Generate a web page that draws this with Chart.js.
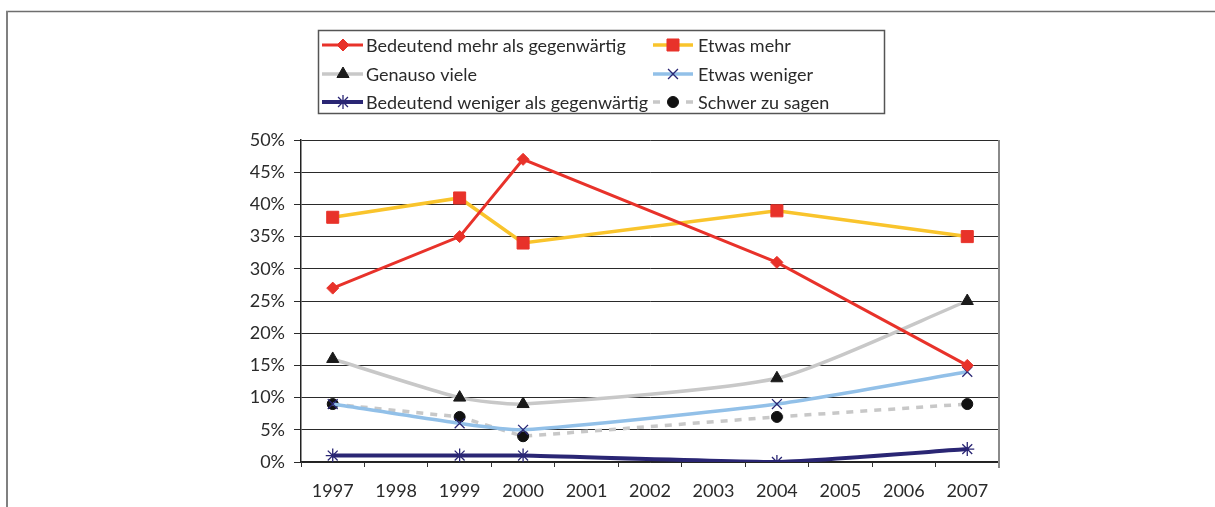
<!DOCTYPE html>
<html><head><meta charset="utf-8">
<script src="https://cdn.jsdelivr.net/npm/chart.js@4.4.1/dist/chart.umd.min.js"></script>
<style>html,body{margin:0;padding:0;background:#fff}#wrap{width:1215px;height:507px;position:relative}</style>
</head><body><div id="wrap"><canvas id="c" width="1215" height="507"></canvas></div>
<script>
// ---- data ----
const years = ['1997','1998','1999','2000','2001','2002','2003','2004','2005','2006','2007'];
const seriesNames = ['Bedeutend mehr als gegenwärtig','Etwas mehr','Genauso viele','Etwas weniger','Bedeutend weniger als gegenwärtig','Schwer zu sagen'];
const bedeutendMehr    = [27, null, 35, 47, null, null, null, 31, null, null, 15];
const etwasMehr        = [38, null, 41, 34, null, null, null, 39, null, null, 35];
const genausoViele     = [16, null, 10,  9, null, null, null, 13, null, null, 25];
const etwasWeniger     = [ 9, null,  6,  5, null, null, null,  9, null, null, 14];
const bedeutendWeniger = [ 1, null,  1,  1, null, null, null,  0, null, null,  2];
const schwerZuSagen    = [ 9, null,  7,  4, null, null, null,  7, null, null,  9];
const yTickValues = [0,5,10,15,20,25,30,35,40,45,50];

const FONT = 'Lato, "DejaVu Sans", sans-serif';
const TEXT = '#2a2a2a';

const styles = [
  {line:'#e8322a', width:3, dash:[], pt:'rectRot', r:6, fill:'#e8322a', stroke:'#e8322a', tension:0},
  {line:'#f9c42c', width:3.5, dash:[], pt:'rect', r:8.5, fill:'#e8322a', stroke:'#e8322a', tension:0},
  {line:'#c8c8c8', width:3.5, dash:[], pt:'triangle', r:7, fill:'#1a1a1a', stroke:'#1a1a1a', tension:0.2},
  {line:'#92c0e8', width:3.5, dash:[], pt:'crossRot', r:7, fill:'#2a2674', stroke:'#2a2674', tension:0.2},
  {line:'#2a2674', width:4, dash:[], pt:'star', r:7, fill:'#2a2674', stroke:'#2a2674', tension:0.15},
  {line:'#c8c8c8', width:3.5, dash:[7,7], pt:'circle', r:5.5, fill:'#111', stroke:'#111', tension:0}
];
const seriesData = [bedeutendMehr, etwasMehr, genausoViele, etwasWeniger, bedeutendWeniger, schwerZuSagen];

const datasets = seriesData.map((d, i) => {
  const s = styles[i];
  return {
    label: seriesNames[i], data: d, spanGaps: true,
    borderColor: s.line, borderWidth: s.width, borderDash: s.dash, tension: s.tension,
    pointStyle: s.pt, pointRadius: s.r, pointHoverRadius: s.r,
    pointBackgroundColor: s.fill, pointBorderColor: s.stroke,
    pointBorderWidth: (s.pt === 'crossRot' || s.pt === 'star') ? 1.3 : 1,
    fill: false
  };
});

function drawMarker(ctx, s, x, y) {
  const opts = {pointStyle: s.pt, radius: s.r, rotation: 0, borderWidth: (s.pt === 'crossRot' || s.pt === 'star') ? 1.3 : 1};
  ctx.save();
  ctx.fillStyle = s.fill; ctx.strokeStyle = s.stroke; ctx.lineWidth = opts.borderWidth;
  ctx.setLineDash([]);
  Chart.helpers.drawPoint(ctx, opts, x, y);
  ctx.restore();
}

const framePlugin = {
  id: 'frame',
  beforeDraw(chart) {
    const ctx = chart.ctx;
    ctx.save();
    ctx.fillStyle = '#fff'; ctx.fillRect(0, 0, chart.width, chart.height);
    ctx.strokeStyle = '#6e6e6e'; ctx.lineWidth = 1.5;
    ctx.beginPath(); ctx.moveTo(6, 11.5); ctx.lineTo(chart.width, 11.5); ctx.stroke();
    ctx.strokeStyle = '#808080'; ctx.lineWidth = 2;
    ctx.beginPath(); ctx.moveTo(7, 11); ctx.lineTo(7, chart.height); ctx.stroke();
    ctx.restore();
  },
  afterDraw(chart) {
    const ctx = chart.ctx;
    const a = chart.chartArea;
    ctx.save();
    ctx.strokeStyle = '#8a8a8a'; ctx.lineWidth = 2;
    ctx.beginPath(); ctx.moveTo(a.right, a.top); ctx.lineTo(a.right, a.bottom + 6); ctx.stroke();
    // legend box
    const bx = 318, by = 30, bw = 566, bh = 83;
    ctx.strokeStyle = '#555'; ctx.lineWidth = 1.5;
    ctx.strokeRect(bx + 0.5, by + 0.5, bw, bh);
    const rows = [45, 74, 102];
    const cols = [{l0:322, l1:363, m:343, t:366}, {l0:653, l1:693, m:673, t:698}];
    ctx.font = '18px ' + FONT; ctx.fillStyle = TEXT; ctx.textBaseline = 'middle'; ctx.textAlign = 'left';
    for (let i = 0; i < seriesNames.length; i++) {
      const s = styles[i];
      const c = cols[i % 2], y = rows[Math.floor(i / 2)];
      ctx.save();
      ctx.strokeStyle = s.line; ctx.lineWidth = s.width;
      ctx.setLineDash(s.dash.length ? [7, 26] : []);
      ctx.beginPath(); ctx.moveTo(c.l0, y); ctx.lineTo(c.l1, y); ctx.stroke();
      ctx.restore();
      drawMarker(ctx, s, c.m, y);
      ctx.fillStyle = TEXT;
      ctx.fillText(seriesNames[i], c.t, y + 1);
    }
    ctx.restore();
  }
};

new Chart(document.getElementById('c'), {
  type: 'line',
  data: { labels: years, datasets },
  options: {
    responsive: false, animation: false, devicePixelRatio: 1,
    layout: { padding: { top: 140, right: 216, left: 0, bottom: 0 } },
    plugins: { legend: { display: false }, tooltip: { enabled: false } },
    scales: {
      x: {
        offset: true,
        grid: { offset: true, drawOnChartArea: false, drawTicks: true, tickLength: 5, color: '#333', lineWidth: 1 },
        border: { display: true, color: '#222', width: 1.5 },
        ticks: { color: TEXT, font: { family: FONT, size: 18 }, padding: 13, maxRotation: 0, autoSkip: false },
        afterFit(s) { s.height = 45; }
      },
      y: {
        min: 0, max: 50,
        afterBuildTicks(s) { s.ticks = yTickValues.map(v => ({ value: v })); },
        grid: { color: '#2a2a2a', lineWidth: 1, drawTicks: true, tickLength: 7 },
        border: { display: true, color: '#222', width: 1.5 },
        ticks: { color: TEXT, font: { family: FONT, size: 18 }, padding: 9, callback: v => v + '%' },
        afterFit(s) { s.width = 301; }
      }
    }
  },
  plugins: [framePlugin]
});
</script>
</body></html>
